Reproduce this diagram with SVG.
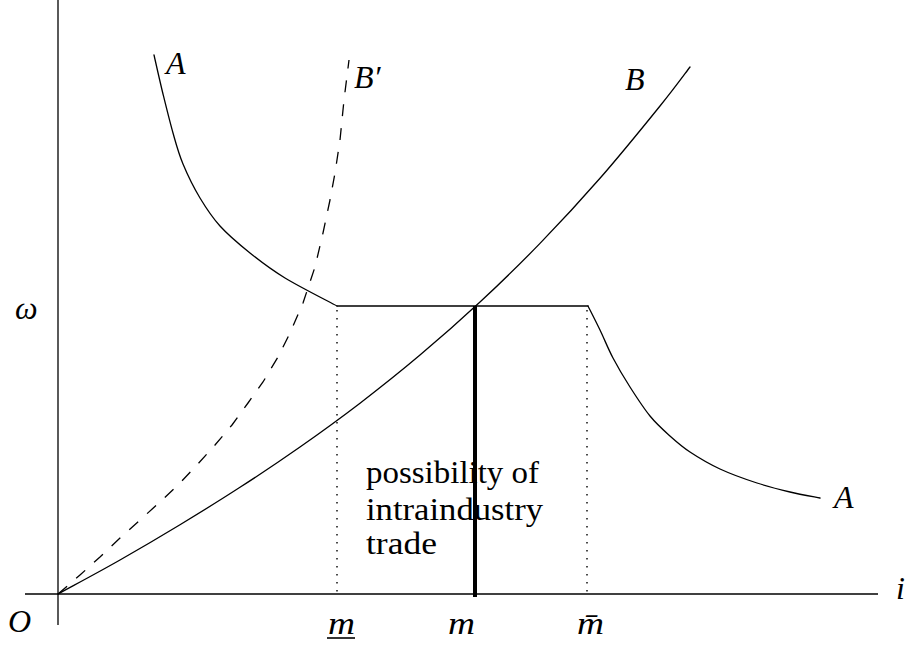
<svg xmlns="http://www.w3.org/2000/svg" width="912" height="647" viewBox="0 0 912 647">
<style>
.ax{stroke:#000;stroke-width:1.3;fill:none}
.cv{stroke:#000;stroke-width:1.3;fill:none;stroke-linejoin:round;stroke-linecap:round}
.dash{stroke:#000;stroke-width:1.3;fill:none;stroke-dasharray:12 12}
.dot{stroke:#000;stroke-width:1.4;fill:none;stroke-dasharray:1.5 6.5}
.math{font-style:italic;font-size:32px;fill:#000}
.txt{font-size:31px;fill:#000}
</style>
<rect width="912" height="647" fill="#fff"/>
<g id="axes">
<line class="ax" x1="58" y1="0" x2="58" y2="625"/>
<line class="ax" x1="25" y1="594" x2="878" y2="594" stroke-width="1.8" stroke="#222"/>
</g>
<g id="connectors">
<path id="curveA-left" class="cv" d="M154,55 C155.5,61.5 159.8,81 163,94 C166.2,107 169.7,121.3 173,133 C176.3,144.7 178.5,153.2 183,164 C187.5,174.8 193.8,187.7 200,198 C206.2,208.3 211.7,216.8 220,226 C228.3,235.2 239.2,244.3 250,253 C260.8,261.7 270.5,269.2 285,278 C299.5,286.8 328.3,301.3 337,306"/>
<path id="flat" class="cv" d="M337,306 L588,306"/>
<path id="curveA-right" class="cv" d="M588,306 C590,310 595.8,321.3 600,330 C604.2,338.7 608,348.5 613,358 C618,367.5 623.8,377.3 630,387 C636.2,396.7 643.3,407.8 650,416 C656.7,424.2 663.3,430 670,436 C676.7,442 681.7,446.5 690,452 C698.3,457.5 708.8,463.8 720,469 C731.2,474.2 745.3,479.2 757,483 C768.7,486.8 779.5,489.5 790,492 C800.5,494.5 815,497 820,498"/>
<path id="curveB" class="cv" d="M58,594 C68.3,588.3 99.7,571.6 120,560 C140.3,548.4 160,536.8 180,524.7 C200,512.6 220,500.3 240,487.3 C260,474.4 280,461 300,447 C320,433 340,418.5 360,403.2 C380,387.9 400,372 420,355.1 C440,338.3 460,320.7 480,302.1 C500,283.5 520,264 540,243.4 C560,222.8 580,201.2 600,178.3 C620,155.4 645,124.6 660,106 C675,87.5 685,73.5 690,67"/>
<path id="curveBprime" class="dash" d="M58,594 L80,575 L100,557 L120,538 L140,520 L160,502 L180,483 L197,465 L215,445 L232,425 L248,403 L263,382 L278,357 L290,333 L303,303 L315,267 L323,233 L330,200 L335,173 L340,140 L344,100 L349,60"/>
<line class="dot" x1="337" y1="310" x2="337" y2="594"/>
<line class="dot" x1="587" y1="310" x2="587" y2="594"/>
<line id="thick" x1="475" y1="306" x2="475" y2="597" stroke="#000" stroke-width="4"/>
</g>
<g id="labels" font-family="'Liberation Serif', 'DejaVu Serif', serif">
<text class="math" x="166" y="74">A</text>
<text class="math" x="354" y="88">B′</text>
<text class="math" x="625" y="90">B</text>
<text class="math" x="834" y="508">A</text>
<text class="math" x="15" y="319">ω</text>
<text class="math" x="8" y="632">O</text>
<text class="math" x="896" y="599">i</text>
<text class="math" x="328" y="634" textLength="27" lengthAdjust="spacingAndGlyphs">m</text>
<line x1="327" y1="638" x2="355" y2="638" stroke="#000" stroke-width="1.6"/>
<text class="math" x="448" y="634" textLength="27" lengthAdjust="spacingAndGlyphs">m</text>
<text class="math" x="577" y="634" textLength="27" lengthAdjust="spacingAndGlyphs">m̄</text>
</g>
<g id="note" font-family="'Liberation Serif', 'DejaVu Serif', serif">
<text class="txt" x="366" y="483" textLength="173" lengthAdjust="spacingAndGlyphs">possibility of</text>
<text class="txt" x="366" y="520" textLength="177" lengthAdjust="spacingAndGlyphs">intraindustry</text>
<text class="txt" x="366" y="554" textLength="71" lengthAdjust="spacingAndGlyphs">trade</text>
</g>
</svg>
